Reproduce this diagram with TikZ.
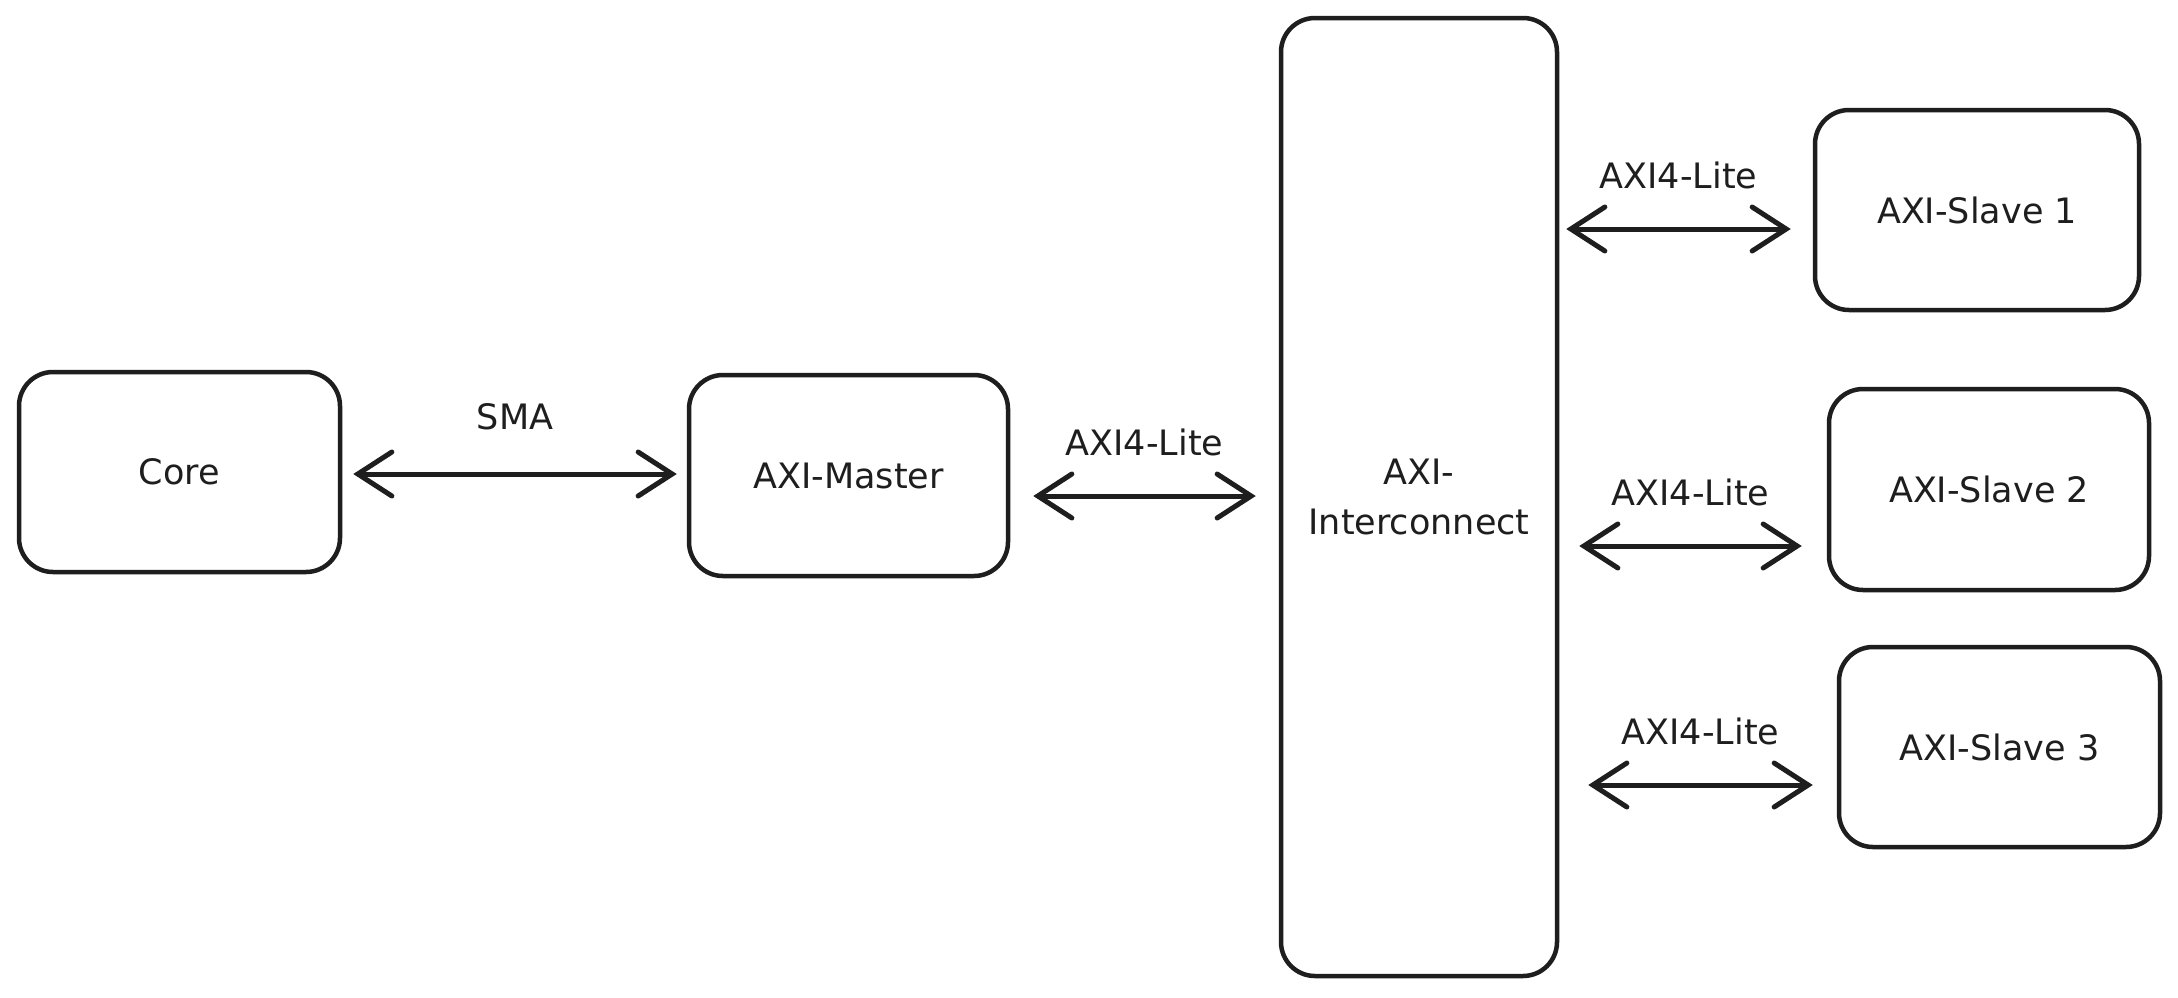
\documentclass[tikz,border=0pt]{standalone}
\usepackage{fontspec}
\setmainfont{DejaVu Sans}
\usetikzlibrary{arrows.meta,calc}
\definecolor{ink}{HTML}{1E1E1E}
\begin{document}
\begin{tikzpicture}[x=1pt,y=-1pt,
  box/.style={draw=ink, line width=4.5pt, rounded corners=34pt, inner sep=0pt, align=center,
    font=\fontsize{35}{50}\selectfont, text=ink},
  biarrow/.style={draw=ink, line width=5pt, line cap=round,
    {Straight Barb[length=34pt,width=44pt,line cap=round]}-{Straight Barb[length=34pt,width=44pt,line cap=round]}},
  lbl/.style={font=\fontsize{35}{40}\selectfont, text=ink}]
\fill[white] (0,0) rectangle (2178,997);
\useasboundingbox (0,0) rectangle (2178,997);

\node[box, minimum width=321pt, minimum height=200pt] (core) at (179.5,472) {Core};
\node[box, minimum width=319pt, minimum height=201pt] (master) at (848.5,475.5) {AXI-Master};
\node[box, minimum width=276pt, minimum height=958pt] (ic) at (1419,497) {AXI-\\Interconnect};
\node[box, minimum width=324pt, minimum height=200pt] (s1) at (1977,210) {AXI-Slave 1};
\node[box, minimum width=320pt, minimum height=201pt] (s2) at (1989,489.5) {AXI-Slave 2};
\node[box, minimum width=321pt, minimum height=200pt] (s3) at (1999.5,747) {AXI-Slave 3};

\draw[biarrow] ($(core.east)+(11,2)$) -- ($(master.west)+(-10,-1.5)$)
  node[lbl, midway, yshift=57pt] (lsma) {SMA};
\draw[biarrow] ($(master.east)+(23,20.5)$) -- ($(ic.west)+(-23,-1)$)
  node[lbl, midway, yshift=54pt] (l0) {AXI4-Lite};
\draw[biarrow] ($(ic.east|-s1.west)+(7,19)$) -- ($(s1.west)+(-22,19)$)
  node[lbl, midway, yshift=54pt] (l1) {AXI4-Lite};
\draw[biarrow] ($(ic.east|-s2.west)+(20,56.5)$) -- ($(s2.west)+(-25,56.5)$)
  node[lbl, midway, yshift=54pt] (l2) {AXI4-Lite};
\draw[biarrow] ($(ic.east|-s3.west)+(29,38)$) -- ($(s3.west)+(-24,38)$)
  node[lbl, midway, yshift=54pt] (l3) {AXI4-Lite};
\end{tikzpicture}
\end{document}
